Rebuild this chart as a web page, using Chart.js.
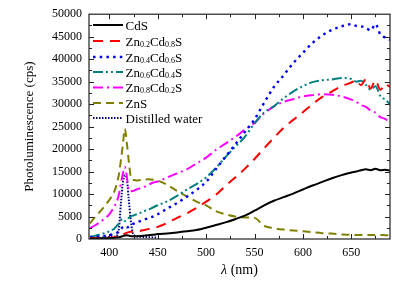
<!DOCTYPE html>
<html>
<head>
<meta charset="utf-8">
<script src="https://cdn.jsdelivr.net/npm/chart.js@4.4.1/dist/chart.umd.min.js"></script>
<style>
html,body{margin:0;padding:0;background:#fff}
</style>
</head>
<body>
<canvas id="plChart" width="408" height="284"></canvas>
<script>
// wavelength grid (nm)
const wavelength=[380,385,390,395,400,405,408,410,412,414,416,418,420,422,424,426,428,432,436,440,445,450,460,470,480,490,500,510,520,530,540,550,560,570,580,590,600,610,620,630,640,650,655,660,665,670,675,680,685,690];

const cds=[100,100,150,150,200,250,350,400,500,650,800,850,750,650,600,600,600,650,750,850,950,1100,1250,1450,1700,2000,2500,3100,3700,4400,5200,6300,7500,8500,9300,10100,11000,11900,12700,13500,14200,14800,15000,15300,15500,15300,15600,15300,15400,15200];
const zn02=[200,200,250,250,300,350,500,600,800,1000,1200,1400,1500,1600,1600,1700,1700,1800,2000,2200,2400,2700,3600,4700,5700,6900,8300,9800,11800,13700,15600,17800,20200,22500,24700,26500,28200,30000,31600,32800,34000,34800,35300,34200,35500,33500,35300,33200,34500,33800];
const zn04=[400,500,600,700,900,1100,1400,1700,2200,2700,2900,2600,2700,3000,3300,3500,3700,4000,4300,4600,5000,5500,6800,8000,9400,10900,12700,15500,18300,21000,23800,26600,30300,33800,36400,39100,41400,43600,45300,46500,47300,47800,47400,47300,47000,46400,47800,45500,44800,44300];
const zn06=[500,700,1000,1300,1700,2300,3000,3500,4200,4500,4000,4200,4700,5000,5200,5300,5500,5800,6200,6500,7000,7500,8400,9600,11000,12200,13700,15800,18200,20500,22700,25700,28200,29500,31300,32800,34000,34900,35300,35500,35800,35600,35000,35200,34300,33200,34000,31800,31000,30000];
const zn08=[2400,3000,3700,4500,5500,7200,8500,10000,12400,14500,16000,14000,11000,10600,10700,10800,11000,11300,11600,12000,12500,12800,13700,14600,15500,16800,18100,19800,21200,22700,24300,25800,27900,29500,30500,31100,31700,32000,32200,32100,31700,31000,30500,29800,29400,28600,28100,27100,26700,25900];
const zns=[3500,4800,6000,7300,8700,10500,12500,14500,17600,21000,24500,21500,17500,14000,13200,13100,13000,13100,13200,13300,13200,13000,12000,10700,9500,8300,7500,6200,5500,5000,4800,4700,2900,2400,2100,1900,1700,1500,1300,1200,1000,950,900,900,850,900,850,900,850,800];
const water=[300,300,300,350,400,500,800,2500,8000,12500,14200,13500,9000,4500,1500,800,600,500,450,400,350,300,null,null,null,null,null,null,null,null,null,null,null,null,null,null,null,null,null,null,null,null,null,null,null,null,null,null,null,null];

const seriesLabels=['CdS','Zn0.2Cd0.8S','Zn0.4Cd0.6S','Zn0.6Cd0.4S','Zn0.8Cd0.2S','ZnS','Distilled water'];
const yTicks=[0,5000,10000,15000,20000,25000,30000,35000,40000,45000,50000];
const xTicks=[400,450,500,550,600,650];

const serif='"Liberation Serif","Times New Roman",serif';

function pts(vals){
  return wavelength.map((w,i)=>({x:w,y:vals[i]}));
}

// frame, inward ticks, legend with subscripts, x title
const framePlugin={
  id:'frame',
  afterDraw(chart){
    const {ctx,chartArea:a,scales:{x,y}}=chart;
    ctx.save();
    ctx.strokeStyle='#222';
    ctx.lineWidth=1.2;
    ctx.strokeRect(a.left,a.top,a.right-a.left,a.bottom-a.top);
    ctx.lineWidth=1;
    ctx.beginPath();
    for(let v=400;v<=675;v+=25){
      const px=Math.round(x.getPixelForValue(v))+0.5;
      const len=v%50===0?5:3;
      ctx.moveTo(px,a.bottom);ctx.lineTo(px,a.bottom-len);
      ctx.moveTo(px,a.top);ctx.lineTo(px,a.top+len);
    }
    for(let v=2500;v<50000;v+=2500){
      const py=Math.round(y.getPixelForValue(v))+0.5;
      const len=v%5000===0?5:3;
      ctx.moveTo(a.left,py);ctx.lineTo(a.left+len,py);
      ctx.moveTo(a.right,py);ctx.lineTo(a.right-len,py);
    }
    ctx.stroke();

    // legend
    const rowY=[25,41,57,72,87.5,103,118];
    chart.data.datasets.forEach((ds,i)=>{
      const yy=rowY[i];
      ctx.strokeStyle=ds.borderColor;
      ctx.lineWidth=ds.borderWidth;
      ctx.setLineDash(ds.borderDash||[]);
      ctx.beginPath();ctx.moveTo(93,yy);ctx.lineTo(123,yy);ctx.stroke();
      ctx.setLineDash([]);
      ctx.fillStyle='#000';
      ctx.textBaseline='alphabetic';
      ctx.textAlign='left';
      let tx=125.5;
      const parts=ds.label.split(/(\d\.\d)/);
      parts.forEach(p=>{
        if(!p)return;
        const sub=/^\d\.\d$/.test(p);
        ctx.font=(sub?'8px ':'13px ')+serif;
        ctx.fillText(p,tx,yy+4.5+(sub?1:0));
        tx+=ctx.measureText(p).width;
      });
    });

    // x title with italic lambda
    ctx.fillStyle='#000';
    ctx.textBaseline='middle';
    const l1='\u03bb';
    const rest=' (nm)';
    ctx.font='italic 14px '+serif;
    const w1=ctx.measureText(l1).width;
    ctx.font='14px '+serif;
    const w2=ctx.measureText(rest).width;
    const cx=(a.left+a.right)/2-(w1+w2)/2;
    ctx.font='italic 14px '+serif;
    ctx.fillText(l1,cx,270);
    ctx.font='14px '+serif;
    ctx.fillText(rest,cx+w1,270);
    ctx.restore();
  }
};

const ctx=document.getElementById('plChart').getContext('2d');
new Chart(ctx,{
  type:'line',
  data:{
    datasets:[
      {label:seriesLabels[0],data:pts(cds),borderColor:'#000000',borderWidth:2},
      {label:seriesLabels[1],data:pts(zn02),borderColor:'#ff0000',borderWidth:2,borderDash:[10,7]},
      {label:seriesLabels[2],data:pts(zn04),borderColor:'#0000ff',borderWidth:2.4,borderDash:[2.5,4.2]},
      {label:seriesLabels[3],data:pts(zn06),borderColor:'#008080',borderWidth:2,borderDash:[10,3,2,3,2,3]},
      {label:seriesLabels[4],data:pts(zn08),borderColor:'#ff00ff',borderWidth:2,borderDash:[10,4,2,4]},
      {label:seriesLabels[5],data:pts(zns),borderColor:'#808000',borderWidth:2,borderDash:[8,5]},
      {label:seriesLabels[6],data:pts(water),borderColor:'#000080',borderWidth:2,borderDash:[1.5,1.5]}
    ]
  },
  options:{
    responsive:false,
    animation:false,
    devicePixelRatio:1,
    layout:{padding:{left:0,top:14,right:18,bottom:0}},
    elements:{point:{radius:0},line:{cubicInterpolationMode:'monotone',fill:false}},
    plugins:{legend:{display:false},tooltip:{enabled:false}},
    scales:{
      x:{
        type:'linear',min:379,max:690,
        grid:{display:false,drawTicks:false},
        border:{display:false},
        afterBuildTicks:s=>{s.ticks=xTicks.map(v=>({value:v}));},
        afterFit:s=>{s.height=45;},
        ticks:{color:'#000',padding:7,font:{family:serif,size:12},autoSkip:false,maxRotation:0}
      },
      y:{
        min:0,max:50000,
        grid:{display:false,drawTicks:false},
        border:{display:false},
        afterBuildTicks:s=>{s.ticks=yTicks.map(v=>({value:v}));},
        afterFit:s=>{s.width=89;},
        ticks:{color:'#000',padding:7,font:{family:serif,size:12},autoSkip:false,callback:v=>String(v)},
        title:{display:true,text:'Photoluminescence (cps)',color:'#000',font:{family:serif,size:13},padding:{top:22,bottom:0}}
      }
    }
  },
  plugins:[framePlugin]
});
</script>
</body>
</html>
